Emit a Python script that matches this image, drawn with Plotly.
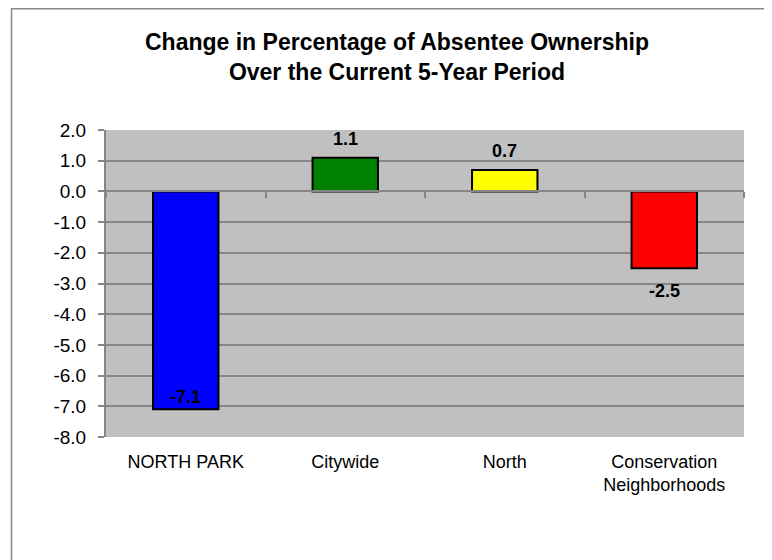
import plotly.graph_objects as go

categories = ["NORTH PARK", "Citywide", "North", "Conservation<br>Neighborhoods"]
values = [-7.1, 1.1, 0.7, -2.5]
colors = ["#0000FF", "#008000", "#FFFF00", "#FF0000"]
y_ticks = [2.0, 1.0, 0.0, -1.0, -2.0, -3.0, -4.0, -5.0, -6.0, -7.0, -8.0]
title_text = "Change in Percentage of Absentee Ownership<br>Over the Current 5-Year Period"

FONT = "Liberation Sans, Arial, sans-serif"
GRID = "#868686"
W, H = 764, 552  # page body adds an 8px offset

fig = go.Figure()
fig.add_trace(go.Bar(
    x=categories, y=values,
    marker=dict(color=colors, line=dict(color="black", width=2)),
    hoverinfo="skip", showlegend=False,
))
# invisible helper trace for the axis drawn through zero
fig.add_trace(go.Scatter(
    x=categories, y=values, xaxis="x2", mode="markers",
    marker=dict(opacity=0), hoverinfo="skip", showlegend=False,
))

annotations = []
for c, v in zip(categories, values):
    if c == "NORTH PARK":
        anchor, shift = "bottom", 0
    elif v >= 0:
        anchor, shift = "bottom", 7
    else:
        anchor, shift = "top", -11
    annotations.append(dict(
        x=c, y=v, xref="x", yref="y", text=f"{v:.1f}", showarrow=False,
        yanchor=anchor, yshift=shift,
        font=dict(family=FONT, size=18, color="black", weight="bold"),
    ))

# chart title
annotations.append(dict(
    text=title_text, xref="paper", yref="paper", x=0.4561, y=1.2394,
    xanchor="center", yanchor="middle", showarrow=False, align="center",
    font=dict(family=FONT, size=23, color="black", weight="bold"),
))

fig.update_layout(
    width=W, height=H,
    margin=dict(l=98, r=28, t=122, b=123),
    paper_bgcolor="white", plot_bgcolor="#C0C0C0",
    bargap=0.59,
    font=dict(family=FONT, color="black"),
    xaxis=dict(type="category", showgrid=False, showline=False, zeroline=False,
               ticks="outside", ticklen=8, tickcolor="rgba(0,0,0,0)",
               tickfont=dict(family=FONT, size=18, color="black")),
    xaxis2=dict(overlaying="x", matches="x", anchor="free", position=0.8,
                side="bottom", showticklabels=False, ticks="outside",
                tickson="boundaries", ticklen=6, tickwidth=2, tickcolor=GRID,
                showline=True, linecolor=GRID, linewidth=2, showgrid=False,
                zeroline=False),
    yaxis=dict(range=[-8, 2], tickvals=y_ticks,
               ticktext=[f"{t:.1f}" for t in y_ticks],
               showgrid=True, gridcolor=GRID, gridwidth=2,
               zeroline=False, showline=True, linecolor=GRID, linewidth=2,
               ticks="outside", ticklen=6, tickwidth=2, tickcolor=GRID,
               ticklabelstandoff=8,
               tickfont=dict(family=FONT, size=19, color="black")),
    annotations=annotations,
    shapes=[dict(type="path", xref="paper", yref="paper",
                 path="M -0.1481,-0.531 L -0.1481,1.395 L 1.0878,1.395",
                 line=dict(color="#888888", width=1.5))],
)

fig.write_html("out.html")
